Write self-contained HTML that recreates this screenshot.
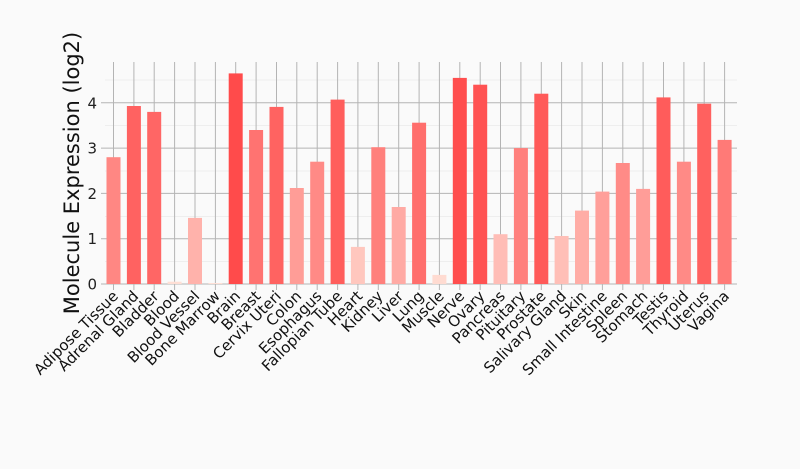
<!DOCTYPE html>
<html><head><meta charset="utf-8"><style>html,body{margin:0;padding:0;background:#fafafa}</style></head>
<body>
<svg width="800" height="464" xmlns="http://www.w3.org/2000/svg" font-family="DejaVu Sans, Liberation Sans, sans-serif">
<rect width="800" height="464" fill="#fafafa"/>
<g stroke="#eeeeee" stroke-width="1">
<line x1="105" x2="737" y1="261.5" y2="261.5"/><line x1="105" x2="737" y1="216.5" y2="216.5"/><line x1="105" x2="737" y1="171" y2="171"/><line x1="105" x2="737" y1="125.5" y2="125.5"/><line x1="105" x2="737" y1="80" y2="80"/>
</g>
<g stroke="#b4b4b4" stroke-width="1">
<line x1="101" x2="737" y1="284" y2="284"/><line x1="101" x2="737" y1="238.7" y2="238.7"/><line x1="101" x2="737" y1="193.4" y2="193.4"/><line x1="101" x2="737" y1="148.1" y2="148.1"/><line x1="101" x2="737" y1="102.8" y2="102.8"/>
</g>
<g stroke="#b4b4b4" stroke-width="1">
<line x1="113.5" x2="113.5" y1="62" y2="290"/><line x1="133.9" x2="133.9" y1="62" y2="290"/><line x1="154.2" x2="154.2" y1="62" y2="290"/><line x1="174.6" x2="174.6" y1="62" y2="290"/><line x1="195" x2="195" y1="62" y2="290"/><line x1="215.4" x2="215.4" y1="62" y2="290"/><line x1="235.7" x2="235.7" y1="62" y2="290"/><line x1="256.1" x2="256.1" y1="62" y2="290"/><line x1="276.5" x2="276.5" y1="62" y2="290"/><line x1="296.8" x2="296.8" y1="62" y2="290"/><line x1="317.2" x2="317.2" y1="62" y2="290"/><line x1="337.6" x2="337.6" y1="62" y2="290"/><line x1="357.9" x2="357.9" y1="62" y2="290"/><line x1="378.3" x2="378.3" y1="62" y2="290"/><line x1="398.7" x2="398.7" y1="62" y2="290"/><line x1="419.1" x2="419.1" y1="62" y2="290"/><line x1="439.4" x2="439.4" y1="62" y2="290"/><line x1="459.8" x2="459.8" y1="62" y2="290"/><line x1="480.2" x2="480.2" y1="62" y2="290"/><line x1="500.5" x2="500.5" y1="62" y2="290"/><line x1="520.9" x2="520.9" y1="62" y2="290"/><line x1="541.3" x2="541.3" y1="62" y2="290"/><line x1="561.6" x2="561.6" y1="62" y2="290"/><line x1="582" x2="582" y1="62" y2="290"/><line x1="602.4" x2="602.4" y1="62" y2="290"/><line x1="622.8" x2="622.8" y1="62" y2="290"/><line x1="643.1" x2="643.1" y1="62" y2="290"/><line x1="663.5" x2="663.5" y1="62" y2="290"/><line x1="683.9" x2="683.9" y1="62" y2="290"/><line x1="704.2" x2="704.2" y1="62" y2="290"/><line x1="724.6" x2="724.6" y1="62" y2="290"/>
</g>
<g>
<rect x="106.5" y="157.2" width="14" height="126.8" fill="rgb(255,135,131)"/>
<rect x="126.9" y="106" width="14" height="178" fill="rgb(255,98,97)"/>
<rect x="147.2" y="111.9" width="14" height="172.1" fill="rgb(255,102,101)"/>
<rect x="167.6" y="281.7" width="14" height="2.3" fill="rgb(255,223,213)"/>
<rect x="188" y="217.9" width="14" height="66.1" fill="rgb(255,178,171)"/>
<rect x="208.4" y="283" width="14" height="1" fill="rgb(255,224,214)"/>
<rect x="228.7" y="73.4" width="14" height="210.6" fill="rgb(255,75,75)"/>
<rect x="249.1" y="130" width="14" height="154" fill="rgb(255,115,113)"/>
<rect x="269.5" y="106.9" width="14" height="177.1" fill="rgb(255,99,97)"/>
<rect x="289.8" y="188" width="14" height="96" fill="rgb(255,157,151)"/>
<rect x="310.2" y="161.7" width="14" height="122.3" fill="rgb(255,138,134)"/>
<rect x="330.6" y="99.6" width="14" height="184.4" fill="rgb(255,94,92)"/>
<rect x="350.9" y="246.9" width="14" height="37.1" fill="rgb(255,199,190)"/>
<rect x="371.3" y="147.2" width="14" height="136.8" fill="rgb(255,128,124)"/>
<rect x="391.7" y="207" width="14" height="77" fill="rgb(255,170,164)"/>
<rect x="412.1" y="122.7" width="14" height="161.3" fill="rgb(255,110,108)"/>
<rect x="432.4" y="274.9" width="14" height="9.1" fill="rgb(255,219,209)"/>
<rect x="452.8" y="77.9" width="14" height="206.1" fill="rgb(255,78,78)"/>
<rect x="473.2" y="84.7" width="14" height="199.3" fill="rgb(255,83,83)"/>
<rect x="493.5" y="234.2" width="14" height="49.8" fill="rgb(255,189,182)"/>
<rect x="513.9" y="148.1" width="14" height="135.9" fill="rgb(255,128,125)"/>
<rect x="534.3" y="93.7" width="14" height="190.3" fill="rgb(255,90,89)"/>
<rect x="554.6" y="236" width="14" height="48" fill="rgb(255,191,183)"/>
<rect x="575" y="210.6" width="14" height="73.4" fill="rgb(255,173,166)"/>
<rect x="595.4" y="191.6" width="14" height="92.4" fill="rgb(255,159,154)"/>
<rect x="615.8" y="163" width="14" height="121" fill="rgb(255,139,135)"/>
<rect x="636.1" y="188.9" width="14" height="95.1" fill="rgb(255,157,152)"/>
<rect x="656.5" y="97.4" width="14" height="186.6" fill="rgb(255,92,91)"/>
<rect x="676.9" y="161.7" width="14" height="122.3" fill="rgb(255,138,134)"/>
<rect x="697.2" y="103.7" width="14" height="180.3" fill="rgb(255,97,95)"/>
<rect x="717.6" y="139.9" width="14" height="144.1" fill="rgb(255,122,119)"/>
</g>
<g font-size="15" fill="#222" text-anchor="end">
<text x="97" y="289.5">0</text><text x="97" y="244.2">1</text><text x="97" y="198.9">2</text><text x="97" y="153.6">3</text><text x="97" y="108.3">4</text>
</g>
<text transform="translate(79,173) rotate(-90)" font-size="21" text-anchor="middle" fill="#111">Molecule Expression (log2)</text>
<g font-size="15" fill="#111" text-anchor="end">
<text transform="translate(119,297) rotate(-45)">Adipose Tissue</text>
<text transform="translate(139.4,297) rotate(-45)">Adrenal Gland</text>
<text transform="translate(159.7,297) rotate(-45)">Bladder</text>
<text transform="translate(180.1,297) rotate(-45)">Blood</text>
<text transform="translate(200.5,297) rotate(-45)">Blood Vessel</text>
<text transform="translate(220.9,297) rotate(-45)">Bone Marrow</text>
<text transform="translate(241.2,297) rotate(-45)">Brain</text>
<text transform="translate(261.6,297) rotate(-45)">Breast</text>
<text transform="translate(282,297) rotate(-45)">Cervix Uteri</text>
<text transform="translate(302.3,297) rotate(-45)">Colon</text>
<text transform="translate(322.7,297) rotate(-45)">Esophagus</text>
<text transform="translate(343.1,297) rotate(-45)">Fallopian Tube</text>
<text transform="translate(363.4,297) rotate(-45)">Heart</text>
<text transform="translate(383.8,297) rotate(-45)">Kidney</text>
<text transform="translate(404.2,297) rotate(-45)">Liver</text>
<text transform="translate(424.6,297) rotate(-45)">Lung</text>
<text transform="translate(444.9,297) rotate(-45)">Muscle</text>
<text transform="translate(465.3,297) rotate(-45)">Nerve</text>
<text transform="translate(485.7,297) rotate(-45)">Ovary</text>
<text transform="translate(506,297) rotate(-45)">Pancreas</text>
<text transform="translate(526.4,297) rotate(-45)">Pituitary</text>
<text transform="translate(546.8,297) rotate(-45)">Prostate</text>
<text transform="translate(567.1,297) rotate(-45)">Salivary Gland</text>
<text transform="translate(587.5,297) rotate(-45)">Skin</text>
<text transform="translate(607.9,297) rotate(-45)">Small Intestine</text>
<text transform="translate(628.3,297) rotate(-45)">Spleen</text>
<text transform="translate(648.6,297) rotate(-45)">Stomach</text>
<text transform="translate(669,297) rotate(-45)">Testis</text>
<text transform="translate(689.4,297) rotate(-45)">Thyroid</text>
<text transform="translate(709.7,297) rotate(-45)">Uterus</text>
<text transform="translate(730.1,297) rotate(-45)">Vagina</text>
</g>
</svg>
</body></html>
